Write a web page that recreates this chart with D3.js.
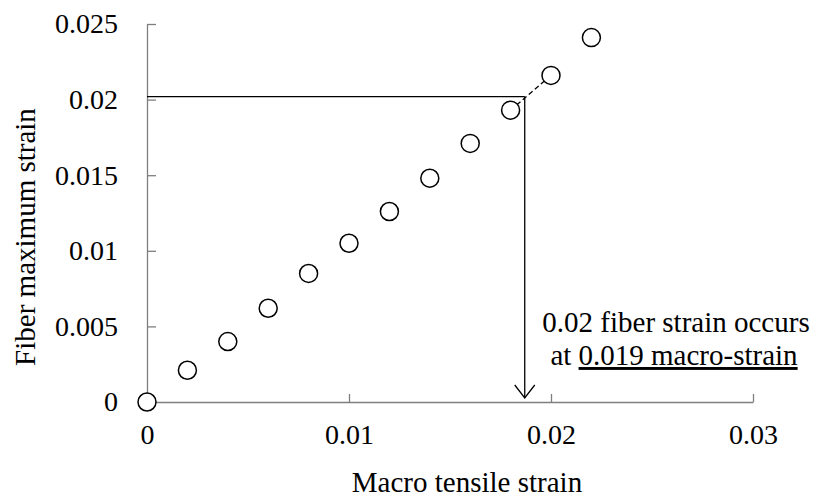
<!DOCTYPE html>
<html>
<head>
<meta charset="utf-8">
<script src="https://cdn.jsdelivr.net/npm/d3@7"></script>
<style>
  body { margin: 0; background: #fff; }
</style>
</head>
<body>
<svg id="chart" width="816" height="497"></svg>
<script>
// macro strain vs fiber max strain
var macroStrain = [0, 0.002, 0.004, 0.006, 0.008, 0.010, 0.012, 0.014, 0.016, 0.018, 0.020, 0.022];
var fiberStrain = [0, 0.0021, 0.0040, 0.0062, 0.0085, 0.0105, 0.0126, 0.0148, 0.0171, 0.0193, 0.0216, 0.0241];
var xTicks = [0, 0.01, 0.02, 0.03];
var yTicks = [0, 0.005, 0.01, 0.015, 0.02, 0.025];
// where the fiber strain reaches 0.02
var crossMacro = 0.0187;
var crossFiber = 0.0202;

var serif = "Liberation Serif";

var svg = d3.select("#chart");
var x = d3.scaleLinear().domain([0, 0.03]).range([147, 753]);
var y = d3.scaleLinear().domain([0, 0.025]).range([402, 24]);
var axisColor = "#7f7f7f";

var fmt = function (d) { return d === 0 ? "0" : d3.format("")(d); };

var gx = svg.append("g")
  .attr("transform", "translate(0," + y(0) + ")")
  .call(d3.axisBottom(x).tickValues(xTicks).tickFormat(fmt)
    .tickSizeInner(-8).tickSizeOuter(0).tickPadding(22));
var gy = svg.append("g")
  .attr("transform", "translate(" + x(0) + ",0)")
  .call(d3.axisLeft(y).tickValues(yTicks).tickFormat(fmt)
    .tickSizeInner(-9).tickSizeOuter(0).tickPadding(29));

[gx, gy].forEach(function (g) {
  g.select(".domain").attr("stroke", axisColor).attr("stroke-width", 1.3);
  g.selectAll(".tick line").attr("stroke", axisColor).attr("stroke-width", 1.3);
  g.selectAll(".tick text")
    .style("font-family", serif)
    .style("font-size", "28px")
    .attr("fill", "#000");
});

// guide lines
svg.append("line")
  .attr("x1", x(0)).attr("y1", y(crossFiber))
  .attr("x2", x(crossMacro)).attr("y2", y(crossFiber))
  .attr("stroke", "#000").attr("stroke-width", 1.3);
svg.append("line")
  .attr("x1", x(crossMacro)).attr("y1", y(crossFiber))
  .attr("x2", x(crossMacro)).attr("y2", y(0) - 4)
  .attr("stroke", "#000").attr("stroke-width", 1.3);
svg.append("path")
  .attr("d", "M" + (x(crossMacro) - 10) + "," + (y(0) - 17) + "L" + x(crossMacro) + "," + (y(0) - 4) +
    "L" + (x(crossMacro) + 10) + "," + (y(0) - 17))
  .attr("fill", "none").attr("stroke", "#000").attr("stroke-width", 1.3);

// dashed segment between the two points around 0.02
svg.append("line")
  .attr("x1", x(macroStrain[9])).attr("y1", y(fiberStrain[9]))
  .attr("x2", x(macroStrain[10])).attr("y2", y(fiberStrain[10]))
  .attr("stroke", "#000").attr("stroke-width", 1.3).attr("stroke-dasharray", "5,3");

svg.append("g").selectAll("circle")
  .data(macroStrain)
  .enter()
  .append("circle")
  .attr("cx", function (d) { return x(d); })
  .attr("cy", function (d, i) { return y(fiberStrain[i]); })
  .attr("r", 9)
  .attr("fill", "#fff")
  .attr("stroke", "#000")
  .attr("stroke-width", 1.5);

function label(sel) {
  return sel.style("font-family", serif).style("font-size", "29px").attr("fill", "#000")
    .attr("text-anchor", "middle");
}

// axis titles
svg.append("text").call(label)
  .attr("x", 467).attr("y", 492)
  .text("Macro tensile strain");
svg.append("text").call(label)
  .attr("transform", "translate(35,237) rotate(-90)")
  .text("Fiber maximum strain");

// annotation
svg.append("text").call(label)
  .attr("x", 676).attr("y", 332)
  .text("0.02 fiber strain occurs");
var t2 = svg.append("text").call(label)
  .attr("x", 674).attr("y", 365);
t2.append("tspan").text("at ");
t2.append("tspan").style("text-decoration", "underline").text("0.019 macro-strain");
</script>
</body>
</html>
